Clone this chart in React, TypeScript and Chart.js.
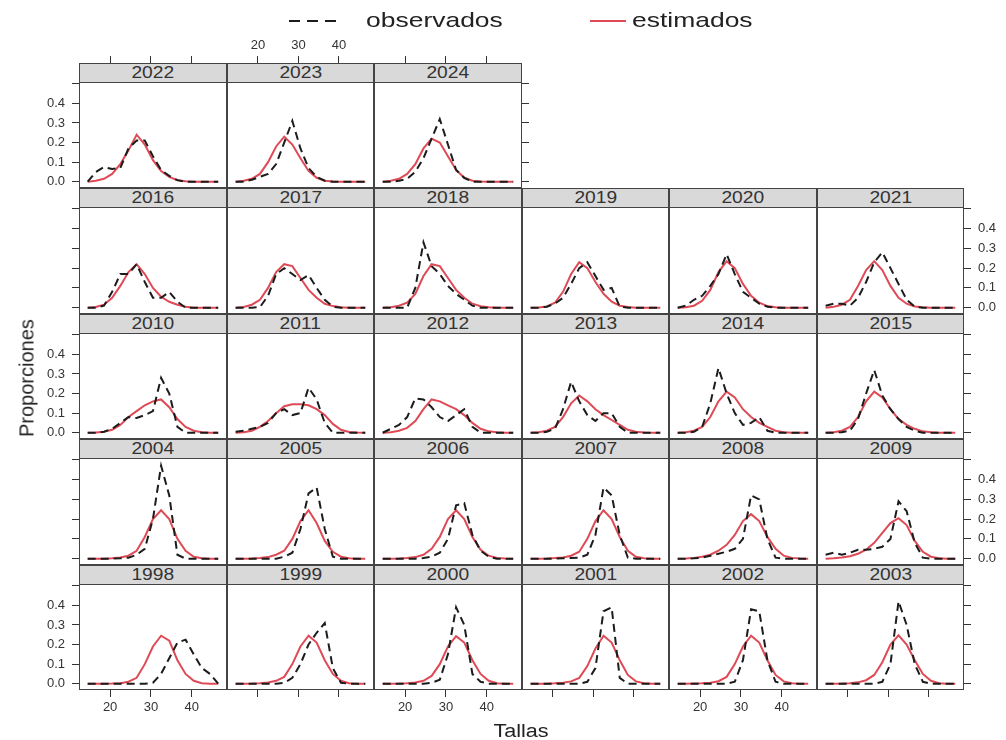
import React, { useEffect, useRef } from 'react';
import { Chart, registerables } from 'chart.js';

Chart.register(...registerables);

// ---------- data ----------
const tallas = [14.5, 16.5, 18.5, 20.5, 22.5, 24.5, 26.5, 28.5, 30.5, 32.5, 34.5, 36.5, 38.5, 40.5, 42.5, 44.5, 46.5];
const xTickValues = [20, 30, 40];
const xTickLabels = ['20', '30', '40'];
const yTickValues = [0, 0.1, 0.2, 0.3, 0.4, 0.5];
const yTickLabels = ['0.0', '0.1', '0.2', '0.3', '0.4', ''];
const legendLabels = ['observados', 'estimados'];
const xTitle = 'Tallas';
const yTitle = 'Proporciones';

const obs2022 = [0, 0.05, 0.075, 0.065, 0.07, 0.17, 0.21, 0.21, 0.13, 0.06, 0.03, 0.008, 0, 0, 0, 0, 0];
const est2022 = [0, 0.005, 0.015, 0.04, 0.09, 0.16, 0.24, 0.19, 0.11, 0.055, 0.025, 0.008, 0.002, 0, 0, 0, 0];
const obs2023 = [0, 0, 0.01, 0.025, 0.04, 0.09, 0.2, 0.31, 0.17, 0.07, 0.025, 0.005, 0, 0, 0, 0, 0];
const est2023 = [0, 0.005, 0.015, 0.04, 0.1, 0.18, 0.23, 0.19, 0.12, 0.055, 0.02, 0.005, 0.001, 0, 0, 0, 0];
const obs2024 = [0, 0, 0.005, 0.015, 0.05, 0.12, 0.22, 0.32, 0.19, 0.06, 0.02, 0, 0, 0, 0, 0, 0];
const est2024 = [0, 0.005, 0.015, 0.04, 0.09, 0.17, 0.22, 0.2, 0.13, 0.06, 0.02, 0.005, 0.001, 0, 0, 0, 0];

const obs2016 = [0, 0, 0.01, 0.08, 0.17, 0.17, 0.22, 0.13, 0.05, 0.05, 0.08, 0.03, 0, 0, 0, 0, 0];
const est2016 = [0, 0.003, 0.015, 0.05, 0.11, 0.18, 0.22, 0.17, 0.1, 0.055, 0.03, 0.015, 0.005, 0, 0, 0, 0];
const obs2017 = [0, 0, 0, 0.003, 0.06, 0.17, 0.2, 0.17, 0.14, 0.165, 0.1, 0.04, 0.005, 0, 0, 0, 0];
const est2017 = [0, 0.003, 0.015, 0.04, 0.1, 0.18, 0.22, 0.21, 0.15, 0.09, 0.05, 0.02, 0.008, 0.002, 0, 0, 0];
const obs2018 = [0, 0, 0, 0, 0.1, 0.33, 0.21, 0.17, 0.11, 0.07, 0.04, 0.01, 0, 0, 0, 0, 0];
const est2018 = [0, 0.002, 0.01, 0.025, 0.07, 0.16, 0.22, 0.21, 0.15, 0.09, 0.05, 0.02, 0.007, 0.002, 0, 0, 0];
const obs2019 = [0, 0, 0.005, 0.02, 0.05, 0.12, 0.2, 0.23, 0.16, 0.09, 0.1, 0.005, 0, 0, 0, 0, 0];
const est2019 = [0, 0.001, 0.006, 0.025, 0.08, 0.17, 0.23, 0.2, 0.13, 0.07, 0.03, 0.01, 0.003, 0, 0, 0, 0];
const obs2020 = [0, 0.01, 0.04, 0.06, 0.11, 0.17, 0.27, 0.17, 0.08, 0.05, 0.02, 0.005, 0, 0, 0, 0, 0];
const est2020 = [0, 0.002, 0.01, 0.035, 0.09, 0.18, 0.235, 0.2, 0.12, 0.06, 0.025, 0.008, 0.002, 0, 0, 0, 0];
const obs2021 = [0.01, 0.02, 0.02, 0.01, 0.05, 0.13, 0.23, 0.28, 0.2, 0.12, 0.04, 0.005, 0, 0, 0, 0, 0];
const est2021 = [0, 0.005, 0.015, 0.04, 0.11, 0.19, 0.235, 0.19, 0.11, 0.05, 0.02, 0.006, 0.002, 0, 0, 0, 0];

const obs2010 = [0, 0, 0.005, 0.02, 0.05, 0.08, 0.075, 0.09, 0.11, 0.28, 0.2, 0.03, 0, 0, 0, 0, 0];
const est2010 = [0, 0.001, 0.005, 0.015, 0.04, 0.08, 0.11, 0.14, 0.16, 0.17, 0.13, 0.07, 0.03, 0.01, 0.003, 0, 0];
const obs2011 = [0.005, 0.01, 0.02, 0.03, 0.05, 0.1, 0.12, 0.09, 0.1, 0.23, 0.17, 0.05, 0, 0, 0, 0, 0];
const est2011 = [0, 0.003, 0.01, 0.03, 0.06, 0.1, 0.135, 0.145, 0.145, 0.14, 0.12, 0.09, 0.045, 0.015, 0.004, 0.001, 0];
const obs2012 = [0, 0.02, 0.04, 0.08, 0.175, 0.17, 0.13, 0.08, 0.06, 0.09, 0.12, 0.03, 0, 0, 0, 0, 0];
const est2012 = [0, 0.003, 0.01, 0.025, 0.06, 0.12, 0.17, 0.16, 0.14, 0.12, 0.09, 0.05, 0.02, 0.007, 0.002, 0, 0];
const obs2013 = [0, 0, 0.005, 0.02, 0.12, 0.26, 0.16, 0.09, 0.06, 0.1, 0.1, 0.03, 0, 0, 0, 0, 0];
const est2013 = [0, 0.003, 0.01, 0.03, 0.08, 0.15, 0.19, 0.16, 0.12, 0.09, 0.065, 0.04, 0.015, 0.005, 0.001, 0, 0];
const obs2014 = [0, 0, 0.005, 0.03, 0.15, 0.33, 0.2, 0.1, 0.04, 0.05, 0.08, 0.01, 0, 0, 0, 0, 0];
const est2014 = [0, 0.003, 0.01, 0.03, 0.08, 0.16, 0.21, 0.18, 0.12, 0.08, 0.05, 0.03, 0.01, 0.003, 0, 0, 0];
const obs2015 = [0, 0, 0.003, 0.01, 0.07, 0.2, 0.32, 0.19, 0.12, 0.07, 0.03, 0.01, 0, 0, 0, 0, 0];
const est2015 = [0, 0.003, 0.01, 0.03, 0.08, 0.16, 0.21, 0.18, 0.12, 0.07, 0.04, 0.02, 0.007, 0.002, 0, 0, 0];

const obs2004 = [0, 0, 0, 0, 0.002, 0.005, 0.02, 0.05, 0.2, 0.47, 0.32, 0.02, 0, 0, 0, 0, 0];
const est2004 = [0, 0, 0, 0.002, 0.006, 0.015, 0.04, 0.11, 0.2, 0.245, 0.2, 0.1, 0.04, 0.01, 0.002, 0, 0];
const obs2005 = [0, 0, 0, 0, 0, 0, 0.01, 0.03, 0.15, 0.33, 0.36, 0.15, 0.01, 0, 0, 0, 0];
const est2005 = [0, 0, 0.001, 0.003, 0.008, 0.02, 0.04, 0.1, 0.19, 0.245, 0.18, 0.09, 0.035, 0.01, 0.002, 0, 0];
const obs2006 = [0, 0, 0, 0, 0, 0.003, 0.01, 0.03, 0.1, 0.27, 0.28, 0.12, 0.04, 0.01, 0, 0, 0];
const est2006 = [0, 0, 0.001, 0.003, 0.008, 0.02, 0.05, 0.11, 0.2, 0.245, 0.2, 0.11, 0.045, 0.015, 0.004, 0.001, 0];
const obs2007 = [0, 0, 0, 0, 0.002, 0.003, 0.005, 0.02, 0.12, 0.36, 0.32, 0.12, 0.005, 0, 0, 0, 0];
const est2007 = [0, 0, 0.001, 0.003, 0.006, 0.015, 0.035, 0.1, 0.19, 0.245, 0.2, 0.11, 0.04, 0.01, 0.002, 0, 0];
const obs2008 = [0, 0, 0.002, 0.005, 0.015, 0.025, 0.035, 0.05, 0.1, 0.32, 0.3, 0.1, 0.005, 0, 0, 0, 0];
const est2008 = [0, 0.001, 0.004, 0.01, 0.02, 0.04, 0.07, 0.12, 0.19, 0.225, 0.19, 0.11, 0.05, 0.015, 0.004, 0.001, 0];
const obs2009 = [0.02, 0.03, 0.02, 0.03, 0.045, 0.045, 0.05, 0.06, 0.1, 0.29, 0.24, 0.08, 0.005, 0, 0, 0, 0];
const est2009 = [0, 0.002, 0.006, 0.012, 0.025, 0.045, 0.08, 0.13, 0.18, 0.205, 0.17, 0.09, 0.035, 0.01, 0.002, 0, 0];

const obs1998 = [0, 0, 0, 0, 0, 0, 0, 0, 0.005, 0.05, 0.13, 0.21, 0.225, 0.15, 0.08, 0.05, 0];
const est1998 = [0, 0, 0, 0.001, 0.003, 0.01, 0.03, 0.1, 0.19, 0.245, 0.22, 0.12, 0.05, 0.015, 0.003, 0, 0];
const obs1999 = [0, 0, 0, 0, 0, 0, 0.005, 0.03, 0.1, 0.2, 0.26, 0.31, 0.08, 0.005, 0, 0, 0];
const est1999 = [0, 0, 0.001, 0.003, 0.006, 0.015, 0.035, 0.1, 0.19, 0.245, 0.21, 0.12, 0.05, 0.015, 0.003, 0, 0];
const obs2000 = [0, 0, 0, 0, 0, 0, 0.005, 0.02, 0.15, 0.39, 0.3, 0.05, 0.01, 0, 0, 0, 0];
const est2000 = [0, 0, 0.001, 0.003, 0.006, 0.015, 0.04, 0.1, 0.19, 0.243, 0.21, 0.12, 0.05, 0.015, 0.003, 0, 0];
const obs2001 = [0, 0, 0, 0, 0, 0, 0, 0.01, 0.08, 0.37, 0.39, 0.03, 0, 0, 0, 0, 0];
const est2001 = [0, 0, 0, 0.002, 0.005, 0.012, 0.03, 0.09, 0.18, 0.245, 0.21, 0.12, 0.045, 0.012, 0.002, 0, 0];
const obs2002 = [0, 0, 0, 0, 0, 0, 0, 0.01, 0.12, 0.38, 0.37, 0.12, 0.01, 0, 0, 0, 0];
const est2002 = [0, 0, 0.001, 0.002, 0.005, 0.013, 0.035, 0.1, 0.19, 0.245, 0.21, 0.12, 0.045, 0.012, 0.002, 0, 0];
const obs2003 = [0, 0, 0, 0, 0, 0, 0, 0.01, 0.1, 0.42, 0.3, 0.1, 0.01, 0, 0, 0, 0];
const est2003 = [0, 0, 0.001, 0.003, 0.007, 0.018, 0.045, 0.11, 0.2, 0.247, 0.2, 0.12, 0.05, 0.015, 0.003, 0, 0];

const panelRows: number[][] = [
  [2022, 2023, 2024],
  [2016, 2017, 2018, 2019, 2020, 2021],
  [2010, 2011, 2012, 2013, 2014, 2015],
  [2004, 2005, 2006, 2007, 2008, 2009],
  [1998, 1999, 2000, 2001, 2002, 2003],
];

const seriesByYear: Record<number, number[][]> = {
  2022: [obs2022, est2022], 2023: [obs2023, est2023], 2024: [obs2024, est2024],
  2016: [obs2016, est2016], 2017: [obs2017, est2017], 2018: [obs2018, est2018],
  2019: [obs2019, est2019], 2020: [obs2020, est2020], 2021: [obs2021, est2021],
  2010: [obs2010, est2010], 2011: [obs2011, est2011], 2012: [obs2012, est2012],
  2013: [obs2013, est2013], 2014: [obs2014, est2014], 2015: [obs2015, est2015],
  2004: [obs2004, est2004], 2005: [obs2005, est2005], 2006: [obs2006, est2006],
  2007: [obs2007, est2007], 2008: [obs2008, est2008], 2009: [obs2009, est2009],
  1998: [obs1998, est1998], 1999: [obs1999, est1999], 2000: [obs2000, est2000],
  2001: [obs2001, est2001], 2002: [obs2002, est2002], 2003: [obs2003, est2003],
};

// ---------- layout / style ----------
const X_MIN = 12.37, X_MAX = 48.66, Y_MIN = -0.032, Y_MAX = 0.509;
const colEdges = [79, 227, 374, 522, 669, 817, 964];
const rowStripTops = [63, 188, 314, 439, 565];
const rowBottoms = [188, 314, 439, 565, 690];
const STRIP_H = 19;
const ML = 55, MR = 55, MT = 52, MB = 32;
const FONT = "'Liberation Sans', Arial, Helvetica, sans-serif";
const TICK_COLOR = '#333333';
const BORDER_COLOR = '#444444';
const OBS_COLOR = '#1c1c1c';
const EST_COLOR = '#de4a55';
const STRIP_BG = '#d9d9d9';

const borderPlugin = {
  id: 'panelBorder',
  afterDraw(chart: any) {
    const { ctx, chartArea: a } = chart;
    ctx.save();
    ctx.strokeStyle = BORDER_COLOR;
    ctx.lineWidth = 1;
    ctx.strokeRect(a.left + 0.5, a.top + 0.5, a.right - a.left - 1, a.bottom - a.top - 1);
    ctx.restore();
  },
};

function axis(kind: 'x' | 'y', position: string, showTicks: boolean, showLabels: boolean, tickLength: number, size: number, padding: number) {
  const isX = kind === 'x';
  return {
    type: 'linear',
    axis: kind,
    position,
    min: isX ? X_MIN : Y_MIN,
    max: isX ? X_MAX : Y_MAX,
    afterBuildTicks: (s: any) => {
      s.ticks = (isX ? xTickValues : yTickValues).map((v) => ({ value: v }));
    },
    afterFit: (s: any) => {
      if (isX) s.height = size; else s.width = size;
    },
    grid: {
      display: showTicks,
      drawOnChartArea: false,
      drawTicks: true,
      tickLength,
      color: TICK_COLOR,
      tickColor: TICK_COLOR,
      lineWidth: 1,
    },
    border: { display: false },
    ticks: {
      display: showLabels,
      autoSkip: false,
      maxRotation: 0,
      minRotation: 0,
      padding,
      color: TICK_COLOR,
      font: { family: FONT, size: 13 },
      callback: (_v: any, i: number) => (isX ? xTickLabels[i] : yTickLabels[i]),
    },
  };
}

function Panel({ year, row, col, nCols }: { year: number; row: number; col: number; nCols: number }) {
  const ref = useRef<HTMLCanvasElement>(null);
  const left = colEdges[col];
  const right = colEdges[col + 1];
  const top = rowStripTops[row] + STRIP_H;
  const bottom = rowBottoms[row];
  const W = right - left + ML + MR;
  const H = bottom - top + MT + MB;

  useEffect(() => {
    const [obs, est] = seriesByYear[year];
    const isLeft = col === 0;
    const isRight = col === nCols - 1;
    const isTop = row === 0;
    const isBottom = row === panelRows.length - 1;
    const chart = new Chart(ref.current as HTMLCanvasElement, {
      type: 'line',
      data: {
        datasets: [
          {
            label: legendLabels[0],
            data: tallas.map((x, i) => ({ x, y: obs[i] })),
            borderColor: OBS_COLOR,
            borderWidth: 2,
            borderDash: [8, 5],
            pointRadius: 0,
            tension: 0,
            fill: false,
          },
          {
            label: legendLabels[1],
            data: tallas.map((x, i) => ({ x, y: est[i] })),
            borderColor: EST_COLOR,
            borderWidth: 2,
            pointRadius: 0,
            tension: 0,
            fill: false,
          },
        ],
      },
      options: {
        animation: false,
        responsive: false,
        maintainAspectRatio: false,
        devicePixelRatio: 1,
        events: [],
        layout: { padding: 0 },
        plugins: { legend: { display: false }, tooltip: { enabled: false }, title: { display: false } },
        scales: {
          x: axis('x', 'bottom', isBottom, isBottom && col % 2 === 0, 7, MB, 3),
          xTop: axis('x', 'top', isTop, isTop && col % 2 === 1, 26, MT, 3),
          y: axis('y', 'left', isLeft, isLeft && row % 2 === 0, 7, ML, 7),
          yRight: axis('y', 'right', isRight, isRight && row % 2 === 1, 7, MR, 7),
        } as any,
      },
      plugins: [borderPlugin],
    } as any);
    return () => chart.destroy();
  }, [year, row, col, nCols]);

  return (
    <canvas
      ref={ref}
      width={W}
      height={H}
      style={{ position: 'absolute', left: left - ML, top: top - MT, width: W, height: H, zIndex: 1 }}
    />
  );
}

function Strip({ year, row, col }: { year: number; row: number; col: number }) {
  const left = colEdges[col];
  const width = colEdges[col + 1] - left;
  return (
    <div
      style={{
        position: 'absolute',
        left,
        top: rowStripTops[row],
        width,
        height: STRIP_H + 1,
        boxSizing: 'border-box',
        border: `1px solid ${BORDER_COLOR}`,
        background: STRIP_BG,
        zIndex: 2,
        display: 'flex',
        alignItems: 'center',
        justifyContent: 'center',
        fontFamily: FONT,
        fontSize: 16,
        color: '#333',
        lineHeight: '18px',
      }}
    >
      <span style={{ display: 'inline-block', transform: 'scaleX(1.2)' }}>{year}</span>
    </div>
  );
}

export default function App() {
  const panels: JSX.Element[] = [];
  const strips: JSX.Element[] = [];
  panelRows.forEach((yrs, r) =>
    yrs.forEach((y, c) => {
      panels.push(<Panel key={'p' + y} year={y} row={r} col={c} nCols={yrs.length} />);
      strips.push(<Strip key={'s' + y} year={y} row={r} col={c} />);
    })
  );
  return (
    <div
      style={{
        position: 'absolute',
        left: 0,
        top: 0,
        width: 1006,
        height: 740,
        background: '#fff',
        overflow: 'hidden',
        fontFamily: FONT,
      }}
    >
      {/* legend */}
      <svg style={{ position: 'absolute', left: 288, top: 14, zIndex: 3 }} width={52} height={14}>
        <line x1={1} y1={7} x2={51} y2={7} stroke={OBS_COLOR} strokeWidth={2} strokeDasharray="11,7" />
      </svg>
      <div style={{ position: 'absolute', left: 366, top: 7, fontSize: 21, lineHeight: '26px', color: '#222', transformOrigin: 'left center', transform: 'scaleX(1.26)', whiteSpace: 'nowrap', zIndex: 3 }}>
        {legendLabels[0]}
      </div>
      <svg style={{ position: 'absolute', left: 589, top: 14, zIndex: 3 }} width={38} height={14}>
        <line x1={1} y1={7} x2={37} y2={7} stroke={EST_COLOR} strokeWidth={2} />
      </svg>
      <div style={{ position: 'absolute', left: 632, top: 7, fontSize: 21, lineHeight: '26px', color: '#222', transformOrigin: 'left center', transform: 'scaleX(1.26)', whiteSpace: 'nowrap', zIndex: 3 }}>
        {legendLabels[1]}
      </div>

      {panels}
      {strips}

      {/* axis titles */}
      <div style={{ position: 'absolute', left: 27, top: 378, transform: 'translate(-50%, -50%) rotate(-90deg)', fontSize: 20, color: '#222', whiteSpace: 'nowrap', zIndex: 3 }}>
        {yTitle}
      </div>
      <div style={{ position: 'absolute', left: 521, top: 731, transform: 'translate(-50%, -50%) scaleX(1.2)', fontSize: 18, color: '#222', whiteSpace: 'nowrap', zIndex: 3 }}>
        {xTitle}
      </div>
    </div>
  );
}
